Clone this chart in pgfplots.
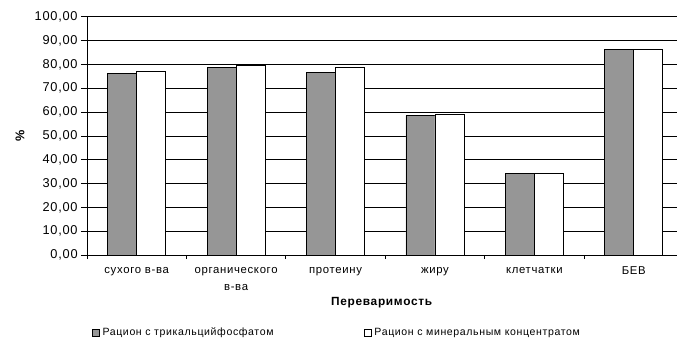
\documentclass[border=0pt]{standalone}
\usepackage{fontspec}
\setmainfont{Liberation Sans}[LetterSpace=6]
\usepackage{pgfplots}
\usepackage{pgfplotstable}
\pgfplotsset{compat=1.18}
\definecolor{bargray}{HTML}{969696}
\pgfplotstableread{
x a b
0 76.2 77.2
1 78.9 79.7
2 76.5 78.8
3 58.5 59.2
4 34.3 34.3
5 86.2 86.2
}\digest
\begin{document}
\begin{tikzpicture}
\useasboundingbox (-65.25pt,-69pt) rectangle (442.5pt,191.25pt);
\begin{axis}[
  at={(0,0)}, anchor=south west, scale only axis,
  width=442.5pt, height=178.7pt,
  ybar=0pt, bar width=21.75pt,
  xmin=-0.5, xmax=5.435, ymin=0, ymax=100,
  axis x line=bottom, axis y line=left,
  axis line style={-, line width=0.6pt, black},
  xtick={0,1,2,3,4,5},
  xticklabels={сухого в-ва,{органического\\в-ва},протеину,жиру,клетчатки,БЕВ},
  major x tick style={draw=none},
  minor xtick={-0.5,0.5,1.5,2.5,3.5,4.5},
  minor x tick style={black, line width=0.5pt},
  minor tick length=3pt,
  tick align=outside,
  major tick length=4.5pt,
  ytick={0,10,...,100},
  y tick style={black, line width=0.5pt},
  ymajorgrids, grid style={black, line width=0.45pt},
  /pgf/number format/assume math mode=true,
  yticklabel style={/pgf/number format/fixed, /pgf/number format/fixed zerofill, /pgf/number format/precision=2, /pgf/number format/use comma, font=\fontsize{9.6}{10}\selectfont, xshift=1pt},
  xticklabel style={align=center, font=\fontsize{8.5}{12.75}\selectfont, yshift=-1pt},
  ylabel={\textbf{\%}},
  ylabel style={at={(axis description cs:-0.1136,0.5)}, anchor=center, font=\fontsize{9.5}{10}\selectfont},
  xlabel={\textbf{Переваримость}},
  xlabel style={at={(axis description cs:0.5,-0.2014)}, anchor=center, font=\fontsize{8.9}{10}\selectfont},
  legend columns=2,
  legend style={at={(axis description cs:0.0017,-0.327)}, anchor=west, draw=none, fill=none,
    font=\fontsize{7.9}{10}\selectfont,
    /tikz/every even column/.append style={column sep=66pt}},
  legend image code/.code={\draw[#1,/tikz/.cd,line width=0.5pt] (0pt,-2.6pt) rectangle (5.2pt,2.6pt);},
]
\addplot[fill=bargray, draw=black, line width=0.6pt] table[x=x,y=a]{\digest};
\addplot[fill=white, draw=black, line width=0.6pt] table[x=x,y=b]{\digest};
\legend{Рацион с трикальцийфосфатом, Рацион с минеральным концентратом}
\end{axis}
\end{tikzpicture}
\end{document}
